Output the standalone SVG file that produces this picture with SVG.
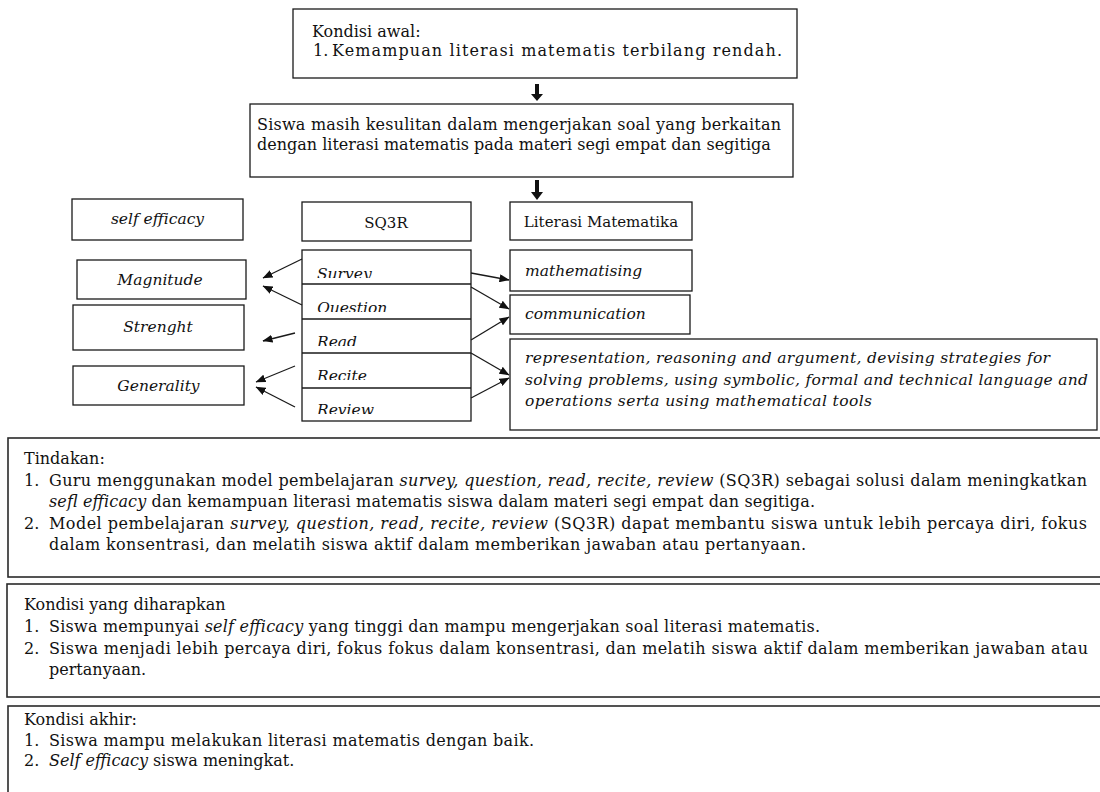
<svg xmlns="http://www.w3.org/2000/svg" width="1100" height="792" viewBox="0 0 1100 792">
<style>
  .box { fill: #ffffff; stroke: #1a1a1a; stroke-width: 1.3; }
  .bbox { fill: #ffffff; stroke: #2a2a2a; stroke-width: 1.6; }
  .t { font-family: "DejaVu Serif", "Liberation Serif", serif; font-size: 16px; fill: #111; }
  .it { font-family: "DejaVu Serif", "Liberation Serif", serif; font-size: 15.5px; font-style: italic; fill: #111; }
  .ti { font-style: italic; }
  .lbl { font-family: "DejaVu Serif", "Liberation Serif", serif; font-size: 15px; fill: #111; }
  .con { fill: none; stroke: #1a1a1a; stroke-width: 1.3; }
  .blk { fill: #111; stroke: none; }
</style>
<defs>
  <marker id="ah" viewBox="0 0 10 8" refX="9.5" refY="4" markerWidth="10" markerHeight="8" markerUnits="userSpaceOnUse" orient="auto">
    <path d="M0,0 L10,4 L0,8 Z" fill="#111"/>
  </marker>
  <clipPath id="c1"><rect x="302" y="250" width="169" height="28"/></clipPath>
  <clipPath id="c2"><rect x="302" y="284" width="169" height="28"/></clipPath>
  <clipPath id="c3"><rect x="302" y="319" width="169" height="27"/></clipPath>
  <clipPath id="c4"><rect x="302" y="353" width="169" height="27"/></clipPath>
  <clipPath id="c5"><rect x="302" y="388" width="169" height="26"/></clipPath>
</defs>
<rect width="1100" height="792" fill="#ffffff"/>

<g id="kondisi-awal">
  <rect class="box" x="293" y="9" width="504" height="69"/>
  <text class="t" x="312" y="37">Kondisi awal:</text>
  <text class="t" x="313" y="56">1.</text>
  <text class="t" x="332" y="56" textLength="450" lengthAdjust="spacing">Kemampuan literasi matematis terbilang rendah.</text>
</g>

<g id="masalah">
  <rect class="box" x="250" y="104" width="543" height="73"/>
  <text class="t" x="257" y="130" textLength="524" lengthAdjust="spacing">Siswa masih kesulitan dalam mengerjakan soal yang berkaitan</text>
  <text class="t" x="257" y="150">dengan literasi matematis pada materi segi empat dan segitiga</text>
</g>

<g id="self-efficacy">
  <rect class="box" x="72" y="199" width="171" height="41"/>
  <text class="it" x="157.5" y="224" text-anchor="middle">self efficacy</text>
</g>
<g id="sq3r">
  <rect class="box" x="302" y="202" width="169" height="39"/>
  <text class="lbl" x="386" y="228" text-anchor="middle">SQ3R</text>
</g>
<g id="literasi-matematika">
  <rect class="box" x="510" y="202" width="182" height="38"/>
  <text class="lbl" x="601" y="227" text-anchor="middle">Literasi Matematika</text>
</g>

<g id="sq3r-steps">
  <rect class="box" x="302" y="250" width="169" height="171"/>
  <line class="con" x1="302" y1="284" x2="471" y2="284"/>
  <line class="con" x1="302" y1="319" x2="471" y2="319"/>
  <line class="con" x1="302" y1="353" x2="471" y2="353"/>
  <line class="con" x1="302" y1="388" x2="471" y2="388"/>
  <text class="it" x="317" y="279" clip-path="url(#c1)">Survey</text>
  <text class="it" x="317" y="313" clip-path="url(#c2)">Question</text>
  <text class="it" x="317" y="347" clip-path="url(#c3)">Read</text>
  <text class="it" x="317" y="381" clip-path="url(#c4)">Recite</text>
  <text class="it" x="317" y="415" clip-path="url(#c5)">Review</text>
</g>

<g id="magnitude">
  <rect class="box" x="77" y="260" width="169" height="39"/>
  <text class="it" x="160" y="285" text-anchor="middle">Magnitude</text>
</g>
<g id="strenght">
  <rect class="box" x="73" y="305" width="171" height="45"/>
  <text class="it" x="158" y="332" text-anchor="middle">Strenght</text>
</g>
<g id="generality">
  <rect class="box" x="73" y="366" width="171" height="39"/>
  <text class="it" x="158.5" y="391" text-anchor="middle">Generality</text>
</g>

<g id="mathematising">
  <rect class="box" x="510" y="250" width="182" height="41"/>
  <text class="it" x="525" y="276">mathematising</text>
</g>
<g id="communication">
  <rect class="box" x="510" y="295" width="180" height="39"/>
  <text class="it" x="525" y="319">communication</text>
</g>
<g id="kemampuan-lain">
  <rect class="box" x="510" y="339" width="587" height="91"/>
  <text class="it" x="525" y="363" textLength="525" lengthAdjust="spacing">representation, reasoning and argument, devising strategies for</text>
  <text class="it" x="525" y="385" textLength="563" lengthAdjust="spacing">solving problems, using symbolic, formal and technical language and</text>
  <text class="it" x="525" y="406" textLength="347" lengthAdjust="spacing">operations serta using  mathematical tools</text>
</g>

<g id="connectors">
  <polygon class="blk" points="535,84 539,84 539,94 543,94 537,101 531,94 535,94"/>
  <polygon class="blk" points="535,180 539,180 539,192 543,192 537,200 531,192 535,192"/>
  <line class="con" x1="302" y1="259" x2="263" y2="278" marker-end="url(#ah)"/>
  <line class="con" x1="302" y1="305" x2="263" y2="286" marker-end="url(#ah)"/>
  <line class="con" x1="295" y1="333" x2="263" y2="341" marker-end="url(#ah)"/>
  <line class="con" x1="295" y1="366" x2="256" y2="382" marker-end="url(#ah)"/>
  <line class="con" x1="295" y1="407" x2="256" y2="387" marker-end="url(#ah)"/>
  <line class="con" x1="471" y1="273" x2="509" y2="280" marker-end="url(#ah)"/>
  <line class="con" x1="471" y1="287" x2="509" y2="309" marker-end="url(#ah)"/>
  <line class="con" x1="471" y1="340" x2="509" y2="317" marker-end="url(#ah)"/>
  <line class="con" x1="471" y1="353" x2="509" y2="375" marker-end="url(#ah)"/>
  <line class="con" x1="471" y1="398" x2="509" y2="378" marker-end="url(#ah)"/>
</g>

<g id="tindakan">
  <rect class="bbox" x="8" y="438" width="1100" height="139"/>
  <text class="t" x="24" y="464">Tindakan:</text>
  <text class="t" x="24" y="485.5">1.</text>
  <text class="t" x="49" y="485.5" textLength="1038" lengthAdjust="spacing">Guru menggunakan model pembelajaran <tspan class="ti">survey, question, read, recite, review</tspan> (SQ3R) sebagai solusi dalam meningkatkan</text>
  <text class="t" x="49" y="507" textLength="766" lengthAdjust="spacing"><tspan class="ti">sefl efficacy</tspan> dan kemampuan literasi matematis siswa dalam materi segi empat dan segitiga.</text>
  <text class="t" x="24" y="528.5">2.</text>
  <text class="t" x="49" y="528.5" textLength="1038" lengthAdjust="spacing">Model pembelajaran <tspan class="ti">survey, question, read, recite, review</tspan> (SQ3R) dapat membantu siswa untuk lebih percaya diri, fokus</text>
  <text class="t" x="49" y="550" textLength="757" lengthAdjust="spacing">dalam konsentrasi, dan melatih siswa aktif dalam memberikan jawaban atau pertanyaan.</text>
</g>

<g id="kondisi-diharapkan">
  <rect class="bbox" x="7" y="584" width="1100" height="113"/>
  <text class="t" x="24" y="610">Kondisi yang diharapkan</text>
  <text class="t" x="24" y="632">1.</text>
  <text class="t" x="49" y="632" textLength="771" lengthAdjust="spacing">Siswa mempunyai <tspan class="ti">self efficacy</tspan> yang tinggi dan mampu mengerjakan soal literasi matematis.</text>
  <text class="t" x="24" y="653.5">2.</text>
  <text class="t" x="49" y="653.5" textLength="1039" lengthAdjust="spacing">Siswa menjadi lebih percaya diri, fokus fokus dalam konsentrasi, dan melatih siswa aktif dalam memberikan jawaban atau</text>
  <text class="t" x="49" y="675">pertanyaan.</text>
</g>

<g id="kondisi-akhir">
  <rect class="bbox" x="8" y="706" width="1100" height="100"/>
  <text class="t" x="24" y="725">Kondisi akhir:</text>
  <text class="t" x="24" y="745.5">1.</text>
  <text class="t" x="49" y="745.5" textLength="485" lengthAdjust="spacing">Siswa mampu melakukan literasi matematis dengan baik.</text>
  <text class="t" x="24" y="766">2.</text>
  <text class="t" x="49" y="766"><tspan class="ti">Self efficacy</tspan> siswa meningkat.</text>
</g>
</svg>
